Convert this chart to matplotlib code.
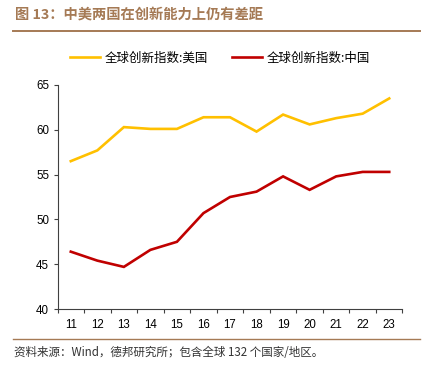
import matplotlib
matplotlib.use('Agg')
import matplotlib.pyplot as plt
from matplotlib.lines import Line2D

plt.rcParams['font.family'] = ['Liberation Sans', 'Noto Sans CJK SC', 'DejaVu Sans']

# Données
years = ['11', '12', '13', '14', '15', '16', '17', '18', '19', '20', '21', '22', '23']
usa = [56.5, 57.7, 60.3, 60.1, 60.1, 61.4, 61.4, 59.8, 61.7, 60.6, 61.3, 61.8, 63.5]
china = [46.4, 45.4, 44.7, 46.6, 47.5, 50.7, 52.5, 53.1, 54.8, 53.3, 54.8, 55.3, 55.3]
yticks = [40, 45, 50, 55, 60, 65]

title = "图 13：中美两国在创新能力上仍有差距"
source = "资料来源：Wind，德邦研究所；包含全球 132 个国家/地区。"
label_us = "全球创新指数:美国"
label_cn = "全球创新指数:中国"

c_us = '#FFC000'
c_cn = '#C00000'
brown = '#A57A55'

fig = plt.figure(figsize=(4.27, 3.71), dpi=100)
ax = fig.add_axes([0.1347, 0.1671, 0.8079, 0.6038])

x = list(range(len(years)))
ax.plot(x, usa, color=c_us, linewidth=1.9, solid_joinstyle='miter')
ax.plot(x, china, color=c_cn, linewidth=1.9, solid_joinstyle='miter')

ax.set_xlim(-0.5, len(years) - 0.5)
ax.set_ylim(40, 65)
ax.set_yticks(yticks)
ax.set_xticks(x)
ax.set_xticklabels(years)
# graduations entre les catégories (style Excel)
ax.set_xticks([i - 0.5 for i in range(len(years) + 1)], minor=True)
ax.tick_params(axis='x', which='major', length=0, pad=7, labelsize=8.3)
ax.tick_params(axis='x', which='minor', length=3, width=0.8, color='#404040')
ax.tick_params(axis='y', length=3, width=0.8, color='#404040', labelsize=8.3, pad=3)

for s in ['top', 'right']:
    ax.spines[s].set_visible(False)
for s in ['left', 'bottom']:
    ax.spines[s].set_color('#404040')
    ax.spines[s].set_linewidth(0.8)

# légende
handles = [Line2D([], [], color=c_us, linewidth=1.9),
           Line2D([], [], color=c_cn, linewidth=1.9)]
fig.legend(handles, [label_us, label_cn], loc='center', bbox_to_anchor=(0.515, 1 - 58 / 371),
           ncol=2, frameon=False, prop={'family': 'Noto Sans CJK SC', 'size': 9},
           handlelength=2.4, handletextpad=0.4, columnspacing=1.9)

# titre et source
fig.text(15 / 427, 1 - 15 / 371, title, color=brown, fontsize=10.3, fontweight='bold',
         va='center', ha='left', family=['Noto Sans CJK SC', 'DejaVu Sans'])
fig.add_artist(Line2D([13 / 427, 420 / 427], [1 - 30.5 / 371, 1 - 30.5 / 371],
                      color=brown, linewidth=1.4))
fig.add_artist(Line2D([13 / 427, 420 / 427], [1 - 339 / 371, 1 - 339 / 371],
                      color=brown, linewidth=1.0))
fig.text(14 / 427, 1 - 353 / 371, source, color='#333333', fontsize=8.3,
         va='center', ha='left', family=['Noto Sans CJK SC', 'DejaVu Sans'])

fig.savefig('out.png', dpi=100)
